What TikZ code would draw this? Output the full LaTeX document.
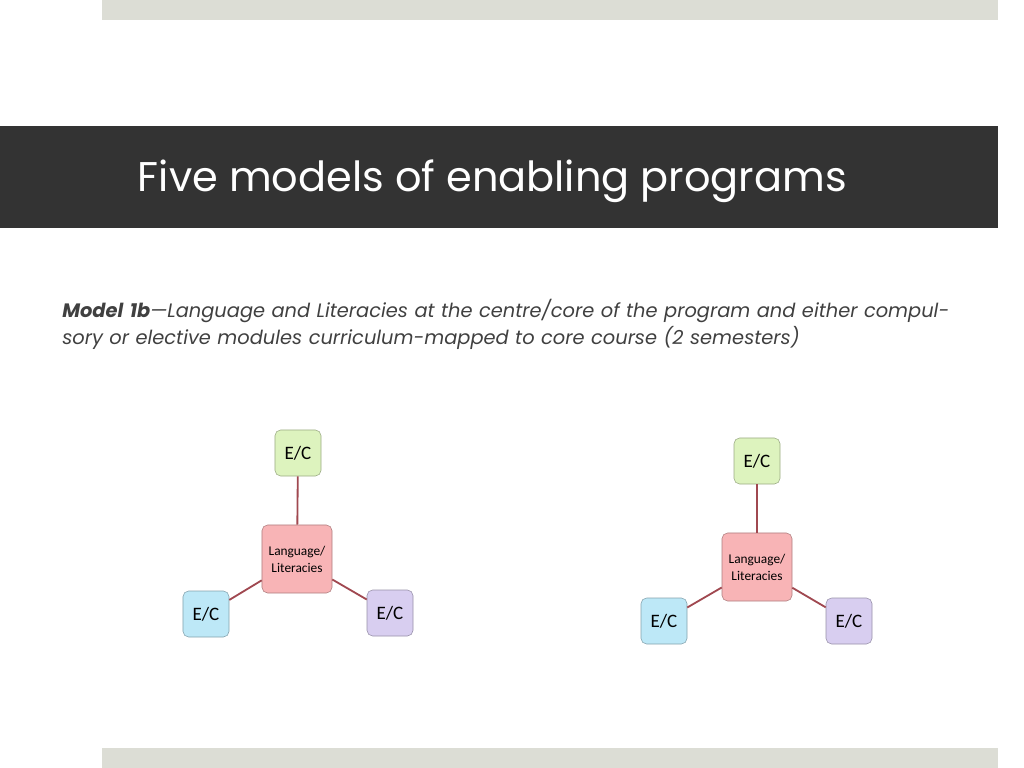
\documentclass[tikz,border=0pt]{standalone}
\usepackage{fontspec}
\setmainfont{Poppins}
\newfontfamily\boxfont{Carlito}
\definecolor{bandgray}{HTML}{DCDDD5}
\definecolor{titlebg}{HTML}{333333}
\definecolor{linkred}{HTML}{A04850}
\definecolor{greenbox}{HTML}{DDF3BE}
\definecolor{bluebox}{HTML}{BDE8F7}
\definecolor{purplebox}{HTML}{D8CEF0}
\definecolor{pinkcore}{HTML}{F8B4B6}
\begin{document}
\begin{tikzpicture}[
		x=0.025cm, y=-0.025cm,
		box/.style={
			draw=#1!70!black, fill=#1, rounded corners=4pt,
			minimum width=1.15cm, minimum height=1.15cm,
			align=center, font=\boxfont\fontsize{13.5}{16}\selectfont,
		},
		core/.style={
			box=pinkcore, minimum width=1.75cm, minimum height=1.7cm,
			font=\boxfont\fontsize{9.5}{12}\selectfont,
		},
		link/.style={
			draw=linkred, line width=1.3pt,
		},
	]
		\useasboundingbox (0,0) rectangle (1024,768);
		% bands
		\fill[bandgray] (102,0) rectangle (998,20);
		\fill[bandgray] (102,748) rectangle (998,768);
		\fill[titlebg] (0,126) rectangle (998,228);
		\node[anchor=west, text=white, font=\fontsize{29.5}{34}\selectfont] (title) at (133,181) {Five models of enabling programs};
		\node[anchor=north west, text width=22.5cm, inner sep=0pt, text=black!75, align=left,
			font=\fontsize{13.8}{19.5}\selectfont\itshape] (desc) at (62,299)
			{\textbf{Model 1b}---Language and Literacies at the centre/core of the program and either compulsory or elective modules curriculum-mapped to core course (2 semesters)};
		% left cluster
		\node[core] (coreA) at (297,559) {Language/\\Literacies};
		\node[box=greenbox] (topA) at (298,453) {E/C};
		\node[box=bluebox] (leftA) at (206,614) {E/C};
		\node[box=purplebox] (rightA) at (390,613) {E/C};
		% right cluster
		\node[core] (coreB) at (757,567) {Language/\\Literacies};
		\node[box=greenbox] (topB) at (757,461) {E/C};
		\node[box=bluebox] (leftB) at (664,621) {E/C};
		\node[box=purplebox] (rightB) at (849,621) {E/C};
		\foreach \c/\t in {A/top,A/left,A/right,B/top,B/left,B/right}
			\draw[link] (core\c) -- (\t\c);
	\end{tikzpicture}
\end{document}
